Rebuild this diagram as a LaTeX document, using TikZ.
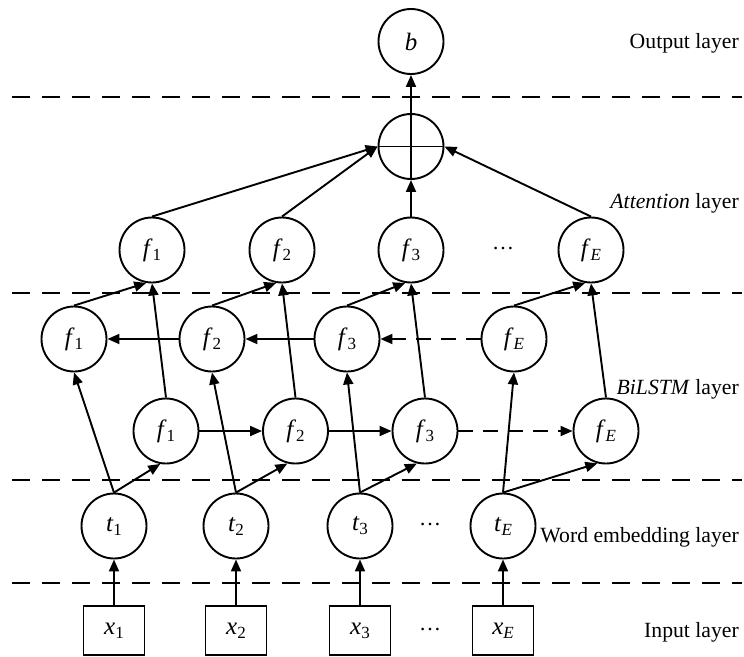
\documentclass[tikz,border=0pt]{standalone}
\usepackage{fontspec}
\setmainfont{Liberation Serif}
\usetikzlibrary{arrows.meta}
\newcommand{\lbl}[2]{\textit{#1}\raisebox{-0.35ex}{\fontsize{17}{17}\selectfont #2}}
\begin{document}
\begin{tikzpicture}[x=1pt,y=-1pt,
  neuron/.style={circle, draw, line width=1.9pt, minimum size=65pt, inner sep=0pt, font=\fontsize{25}{25}\selectfont},
  inbox/.style={rectangle, draw, line width=1.9pt, minimum width=61pt, minimum height=49pt, inner sep=0pt, font=\fontsize{25}{25}\selectfont},
  conn/.style={line width=1.9pt, -{Triangle[length=12pt,width=10pt]}},
  dconn/.style={conn, dash pattern=on 15pt off 10pt},
  sepline/.style={line width=2.6pt, dash pattern=on 18pt off 12pt},
  lay/.style={anchor=east, inner sep=0pt, font=\fontsize{21.7}{24}\selectfont},
  dotsnode/.style={inner sep=0pt, font=\fontsize{22}{22}\selectfont}
]
\useasboundingbox (0,0) rectangle (744,656);

% separators
\coordinate (s1a) at (12,97);  \coordinate (s1b) at (742,97);
\coordinate (s2a) at (12,293); \coordinate (s2b) at (742,293);
\coordinate (s3a) at (12,480); \coordinate (s3b) at (742,480);
\coordinate (s4a) at (12,583); \coordinate (s4b) at (742,583);
\draw[sepline] (s1a) -- (s1b);
\draw[sepline] (s2a) -- (s2b);
\draw[sepline] (s3a) -- (s3b);
\draw[sepline] (s4a) -- (s4b);

% output
\node[neuron] (b) at (411,41.5) {\textit{b}};
\node[neuron] (p) at (411,146.5) {};
\draw[line width=1.9pt] (p.north) -- (p.south) (p.west) -- (p.east);

% attention row
\node[neuron] (af1) at (152,250) {\lbl{f}{1}};
\node[neuron] (af2) at (282,250) {\lbl{f}{2}};
\node[neuron] (af3) at (411,250) {\lbl{f}{3}};
\node[dotsnode] (adots) at (503,249) {…};
\node[neuron] (afE) at (591,250) {\lbl{f}{\textit{E}}};

% backward row
\node[neuron] (bf1) at (74,339) {\lbl{f}{1}};
\node[neuron] (bf2) at (212,339) {\lbl{f}{2}};
\node[neuron] (bf3) at (347,339) {\lbl{f}{3}};
\node[neuron] (bfE) at (514,339) {\lbl{f}{\textit{E}}};

% forward row
\node[neuron] (ff1) at (166,431) {\lbl{f}{1}};
\node[neuron] (ff2) at (295.5,431) {\lbl{f}{2}};
\node[neuron] (ff3) at (425,431) {\lbl{f}{3}};
\node[neuron] (ffE) at (606,431) {\lbl{f}{\textit{E}}};

% embedding row
\node[neuron] (t1) at (114,526) {\lbl{t}{1}};
\node[neuron] (t2) at (236,526) {\lbl{t}{2}};
\node[neuron] (t3) at (360,526) {\lbl{t}{3}};
\node[dotsnode] (tdots) at (430,525) {…};
\node[neuron] (tE) at (503,526) {\lbl{t}{\textit{E}}};

% input row
\node[inbox] (x1) at (114,630.5) {\lbl{x}{1}};
\node[inbox] (x2) at (236,630.5) {\lbl{x}{2}};
\node[inbox] (x3) at (360,630.5) {\lbl{x}{3}};
\node[dotsnode] (xdots) at (430,630) {…};
\node[inbox] (xE) at (503,630.5) {\lbl{x}{\textit{E}}};

% layer labels
\node[lay] (lo) at (739,43) {Output layer};
\node[lay] (la) at (739,203) {\textit{Attention} layer};
\node[lay] (lb) at (739,389) {\textit{BiLSTM} layer};
\node[lay] (lw) at (739,537) {Word embedding layer};
\node[lay] (li) at (739,632) {Input layer};

% connectors: input -> embedding
\draw[conn] (x1.north) -- (t1.south);
\draw[conn] (x2.north) -- (t2.south);
\draw[conn] (x3.north) -- (t3.south);
\draw[conn] (xE.north) -- (tE.south);

% embedding -> forward
\draw[conn] (t1.north) -- (ff1.260);
\draw[conn] (t2.north) -- (ff2.256);
\draw[conn] (t3.north) -- (ff3.256);
\draw[conn] (tE.north) -- (ffE.255);

% embedding -> backward
\draw[conn] (t1.north) -- (bf1.south);
\draw[conn] (t2.north) -- (bf2.south);
\draw[conn] (t3.north) -- (bf3.south);
\draw[conn] (tE.north) -- (bfE.south);

% forward chain
\draw[conn] (ff1) -- (ff2);
\draw[conn] (ff2) -- (ff3);
\draw[dconn] (ff3) -- (ffE);

% backward chain
\draw[conn] (bf2) -- (bf1);
\draw[conn] (bf3) -- (bf2);
\draw[dconn] (bfE) -- (bf3);

% BiLSTM -> attention
\draw[conn] (bf1.north) -- (af1.260);
\draw[conn] (bf2.north) -- (af2.260);
\draw[conn] (bf3.north) -- (af3.260);
\draw[conn] (bfE.north) -- (afE.260);
\draw[conn] (ff1.north) -- (af1.south);
\draw[conn] (ff2.north) -- (af2.south);
\draw[conn] (ff3.north) -- (af3.south);
\draw[conn] (ffE.north) -- (afE.south);

% attention -> sum
\draw[conn] (af1.north) -- (p.west);
\draw[conn] (af2.north) -- (p.west);
\draw[conn] (af3.north) -- (p.south);
\draw[conn] (afE.north) -- (p.east);

% sum -> output
\draw[conn] (p.north) -- (b.south);
\end{tikzpicture}
\end{document}
